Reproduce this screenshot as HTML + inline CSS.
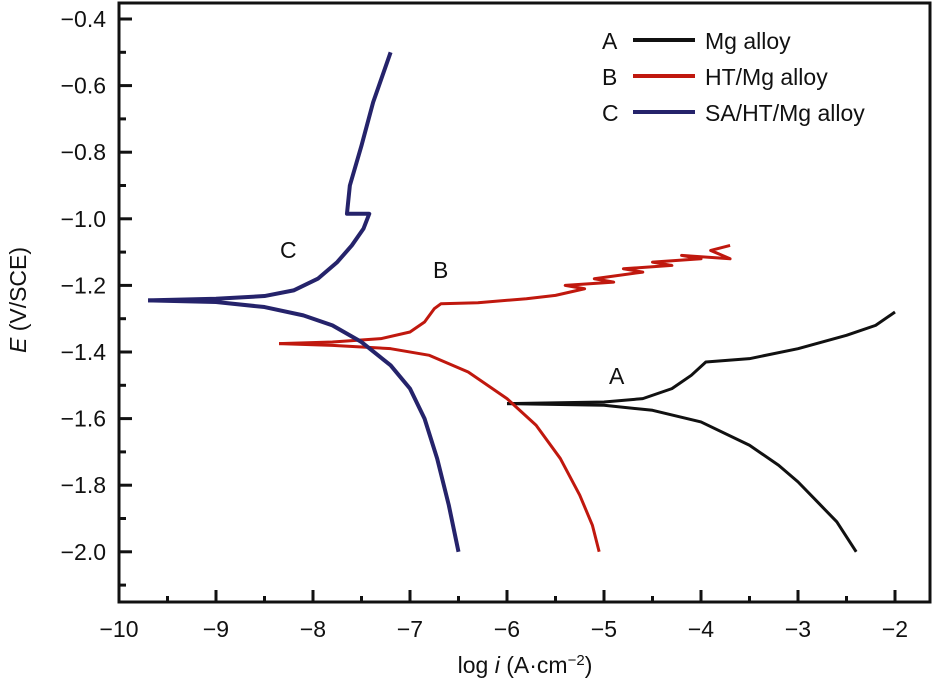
<!DOCTYPE html>
<html><head><meta charset="utf-8"><style>
body{margin:0;background:#fff}
svg text{font-family:"Liberation Sans",Arial,sans-serif;fill:#111}
</style></head><body>
<svg width="947" height="689">
<g id="axes"></g><g id="series"></g>
<g font-size="23">
<text x="602" y="49">A</text><line x1="633" y1="40" x2="695" y2="40" stroke="#111" stroke-width="4"/><text x="705" y="49">Mg alloy</text>
<text x="602" y="85">B</text><line x1="633" y1="76" x2="695" y2="76" stroke="#c0180e" stroke-width="4"/><text x="705" y="85">HT/Mg alloy</text>
<text x="602" y="121">C</text><line x1="633" y1="112" x2="695" y2="112" stroke="#25236b" stroke-width="4"/><text x="705" y="121">SA/HT/Mg alloy</text>
</g>
<text x="280" y="258" font-size="23">C</text>
<text x="433" y="278" font-size="23">B</text>
<text x="609" y="384" font-size="23">A</text>
<text x="525" y="673" font-size="23" text-anchor="middle">log <tspan font-style="italic">i</tspan> (A·cm<tspan dy="-8" font-size="15">−2</tspan><tspan dy="8">)</tspan></text>
<text transform="translate(26,300) rotate(-90)" font-size="23" text-anchor="middle"><tspan font-style="italic">E</tspan> (V/SCE)</text>
</svg>
<script>
const xTicks=[-10,-9,-8,-7,-6,-5,-4,-3,-2];
const yTicks=[-0.4,-0.6,-0.8,-1.0,-1.2,-1.4,-1.6,-1.8,-2.0];
const aAnodic=[[-6,-1.555],[-5,-1.55],[-4.6,-1.54],[-4.3,-1.51],[-4.1,-1.47],[-3.95,-1.43],[-3.5,-1.42],[-3,-1.39],[-2.5,-1.35],[-2.2,-1.32],[-2,-1.28]];
const aCathodic=[[-6,-1.555],[-5,-1.56],[-4.5,-1.575],[-4,-1.61],[-3.5,-1.68],[-3.2,-1.74],[-3,-1.79],[-2.8,-1.85],[-2.6,-1.91],[-2.4,-2.0]];
const bAnodic=[[-8.35,-1.375],[-7.8,-1.37],[-7.3,-1.36],[-7,-1.34],[-6.85,-1.31],[-6.75,-1.27],[-6.68,-1.255],[-6.3,-1.252],[-5.8,-1.24],[-5.5,-1.23],[-5.2,-1.21],[-5.4,-1.2],[-4.9,-1.19],[-5.1,-1.18],[-4.6,-1.16],[-4.8,-1.15],[-4.3,-1.14],[-4.5,-1.13],[-4.0,-1.12],[-4.2,-1.11],[-3.7,-1.12],[-3.9,-1.095],[-3.7,-1.08]];
const bCathodic=[[-8.35,-1.375],[-7.8,-1.38],[-7.2,-1.39],[-6.8,-1.41],[-6.4,-1.46],[-6,-1.54],[-5.7,-1.62],[-5.45,-1.72],[-5.25,-1.83],[-5.12,-1.92],[-5.05,-2.0]];
const cAnodic=[[-9.7,-1.245],[-9,-1.24],[-8.5,-1.232],[-8.2,-1.215],[-7.95,-1.18],[-7.75,-1.13],[-7.6,-1.08],[-7.48,-1.03],[-7.42,-0.985],[-7.65,-0.985],[-7.62,-0.9],[-7.5,-0.78],[-7.38,-0.65],[-7.2,-0.5]];
const cCathodic=[[-9.7,-1.245],[-9,-1.25],[-8.5,-1.265],[-8.1,-1.29],[-7.8,-1.32],[-7.5,-1.37],[-7.2,-1.44],[-7,-1.51],[-6.85,-1.6],[-6.72,-1.72],[-6.6,-1.86],[-6.5,-2.0]];
const NS='http://www.w3.org/2000/svg';
const X=v=>119+(v+10)*97, Y=v=>19+(-0.4-v)*333;
const ax=document.getElementById('axes'), se=document.getElementById('series');
function mk(t,a,p){const e=document.createElementNS(NS,t);for(const k in a)e.setAttribute(k,a[k]);p.appendChild(e);return e;}
const fr=mk('rect',{x:119,y:3,width:811,height:599,fill:'none',stroke:'#111','stroke-width':3},ax);


xTicks.forEach((v,i)=>{
  const l=mk('line',{x1:X(v),x2:X(v),y1:602,y2:590,stroke:'#111','stroke-width':3},ax);
  
  
  if(i<xTicks.length-1){const m=mk('line',{x1:X(v+0.5),x2:X(v+0.5),y1:602,y2:596,stroke:'#111','stroke-width':3},ax);
  
  }
  const t=mk('text',{x:X(v),y:637,'font-size':23,'text-anchor':'middle'},ax);t.textContent='\u2212'+Math.abs(v);
  
  
});
yTicks.forEach(v=>{
  const l=mk('line',{x1:119,x2:132,y1:Y(v),y2:Y(v),stroke:'#111','stroke-width':3},ax);
  
  
  const m=mk('line',{x1:119,x2:126,y1:Y(v-0.1),y2:Y(v-0.1),stroke:'#111','stroke-width':3},ax);
  
  
  const t=mk('text',{x:106,y:Y(v)+8,'font-size':23,'text-anchor':'end'},ax);t.textContent='\u2212'+Math.abs(v).toFixed(1);
  
  
});
function draw(pts,col,name){
  const p=mk('polyline',{points:pts.map(q=>X(q[0])+','+Y(q[1])).join(' '),fill:'none',stroke:col,'stroke-width':name[0]==='c'?4:3,'stroke-linejoin':'round'},se);
  
  
}
draw(aAnodic,'#111','a-anodic-curve');draw(aCathodic,'#111','a-cathodic-curve');
draw(bAnodic,'#c0180e','b-anodic-curve');draw(bCathodic,'#c0180e','b-cathodic-curve');
draw(cAnodic,'#25236b','c-anodic-curve');draw(cCathodic,'#25236b','c-cathodic-curve');
</script>
</body></html>
